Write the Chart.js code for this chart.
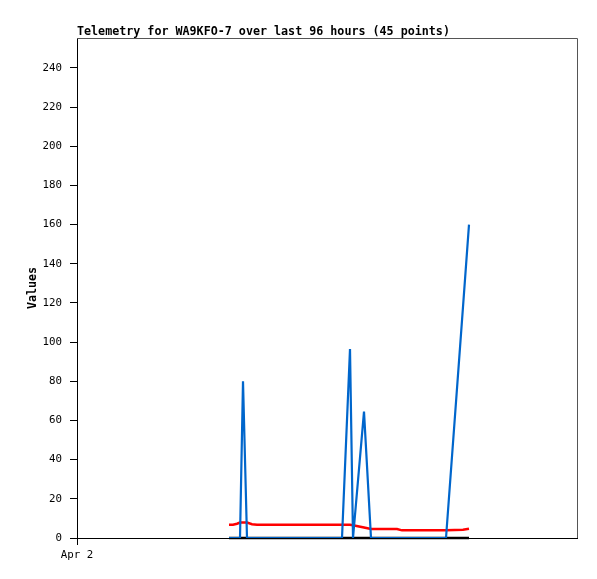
<!DOCTYPE html>
<html>
<head>
<meta charset="utf-8">
<script src="https://cdn.jsdelivr.net/npm/chart.js@4"></script>
<style>
html,body{margin:0;padding:0;background:#fff;}
#wrap{width:597px;height:579px;}
</style>
</head>
<body>
<div id="wrap"><canvas id="c" width="597" height="579"></canvas></div>
<script>
// Hours since Apr 2 00:00
const hours = [60.8, 62.4, 64.0, 65.2, 66.4, 68.0,
  70, 72, 74, 76, 78, 80, 82, 84, 86, 88, 90, 92, 94, 96, 98, 100, 102, 104,
  106.0, 109.2, 110.4, 114.8, 117.6,
  120, 122, 124, 126, 128, 130, 132, 134, 136, 138, 140, 142, 144,
  147.6, 154.4, 156.8];
const blueValues = [0, 0, 0, 0, 80, 0,
  0, 0, 0, 0, 0, 0, 0, 0, 0, 0, 0, 0, 0, 0, 0, 0, 0, 0,
  0, 96.5, 0, 64.5, 0,
  0, 0, 0, 0, 0, 0, 0, 0, 0, 0, 0, 0, 0,
  0, 118, 160];
const redValues = [6.8, 6.8, 7.3, 7.9, 7.9, 7.9,
  7.0, 6.8, 6.8, 6.8, 6.8, 6.8, 6.8, 6.8, 6.8, 6.8, 6.8, 6.8, 6.8, 6.8, 6.8, 6.8, 6.8, 6.8,
  6.8, 6.8, 6.5, 5.4, 4.6,
  4.6, 4.6, 4.6, 4.6, 4.6, 3.9, 3.9, 3.9, 3.9, 3.9, 3.9, 3.9, 3.9,
  3.9, 4.2, 4.7];
const blackValues = hours.map(() => 0);
const xTickValues = [0];
const xTickLabels = ['Apr 2'];
const yTickStep = 20;
const yMax = 255.3;
const xMax = 200;
const titleText = 'Telemetry for WA9KFO-7 over last 96 hours (45 points)';
const yTitleText = 'Values';

const mono = "'DejaVu Sans Mono', monospace";
const pts = vals => hours.map((h, i) => ({x: h, y: vals[i]}));

const framePlugin = {
  id: 'frame',
  beforeDatasetsDraw(chart) {
    const {ctx, chartArea: a} = chart;
    ctx.save();
    ctx.strokeStyle = '#555';
    ctx.lineWidth = 1;
    ctx.beginPath();
    ctx.moveTo(a.left, a.top + 0.5);
    ctx.lineTo(a.right + 0.5, a.top + 0.5);
    ctx.lineTo(a.right + 0.5, a.bottom);
    ctx.stroke();
    ctx.restore();
  },
  afterDraw(chart) {
    const {ctx, chartArea: a} = chart;
    ctx.save();
    ctx.fillStyle = '#000';
    ctx.font = "bold 11.7px " + mono;
    ctx.textAlign = 'left';
    ctx.textBaseline = 'alphabetic';
    ctx.fillText(titleText, a.left, 35);
    ctx.restore();
  }
};

new Chart(document.getElementById('c'), {
  type: 'line',
  data: {
    datasets: [
      {data: pts(blueValues), borderColor: '#0066cc', borderWidth: 2.2, pointRadius: 0, tension: 0, order: 1},
      {data: pts(redValues), borderColor: '#ff0000', borderWidth: 2.5, pointRadius: 0, tension: 0, order: 2},
      {data: pts(blackValues), borderColor: '#000000', borderWidth: 2.5, pointRadius: 0, tension: 0, order: 3, clip: false}
    ]
  },
  options: {
    responsive: false,
    animation: false,
    layout: {padding: {top: 38, right: 20, left: 0, bottom: 0}},
    plugins: {legend: {display: false}, tooltip: {enabled: false}},
    scales: {
      x: {
        type: 'linear',
        min: 0,
        max: xMax,
        afterFit(s) { s.height = 41; },
        afterBuildTicks(s) { s.ticks = xTickValues.map(v => ({value: v})); },
        ticks: {
          color: '#000',
          font: {family: mono, size: 10.8},
          padding: 4,
          maxRotation: 0,
          autoSkip: false,
          callback: (v) => { const i = xTickValues.indexOf(v); return i >= 0 ? xTickLabels[i] : ''; }
        },
        grid: {drawOnChartArea: false, tickLength: 7, color: '#000'},
        border: {color: '#000', width: 1}
      },
      y: {
        type: 'linear',
        min: 0,
        max: yMax,
        afterFit(s) { s.width = 77; },
        afterBuildTicks(s) { s.ticks = s.ticks.filter(t => Math.abs(t.value % yTickStep) < 1e-6); },
        ticks: {
          stepSize: yTickStep,
          color: '#000',
          font: {family: mono, size: 10.8},
          padding: 8
        },
        grid: {drawOnChartArea: false, tickLength: 7, color: '#000'},
        border: {color: '#000', width: 1},
        title: {
          display: true,
          text: yTitleText,
          color: '#000',
          font: {family: mono, size: 11.7, weight: 'bold'},
          padding: {top: 26, bottom: 0}
        }
      }
    }
  },
  plugins: [framePlugin]
});
</script>
</body>
</html>
